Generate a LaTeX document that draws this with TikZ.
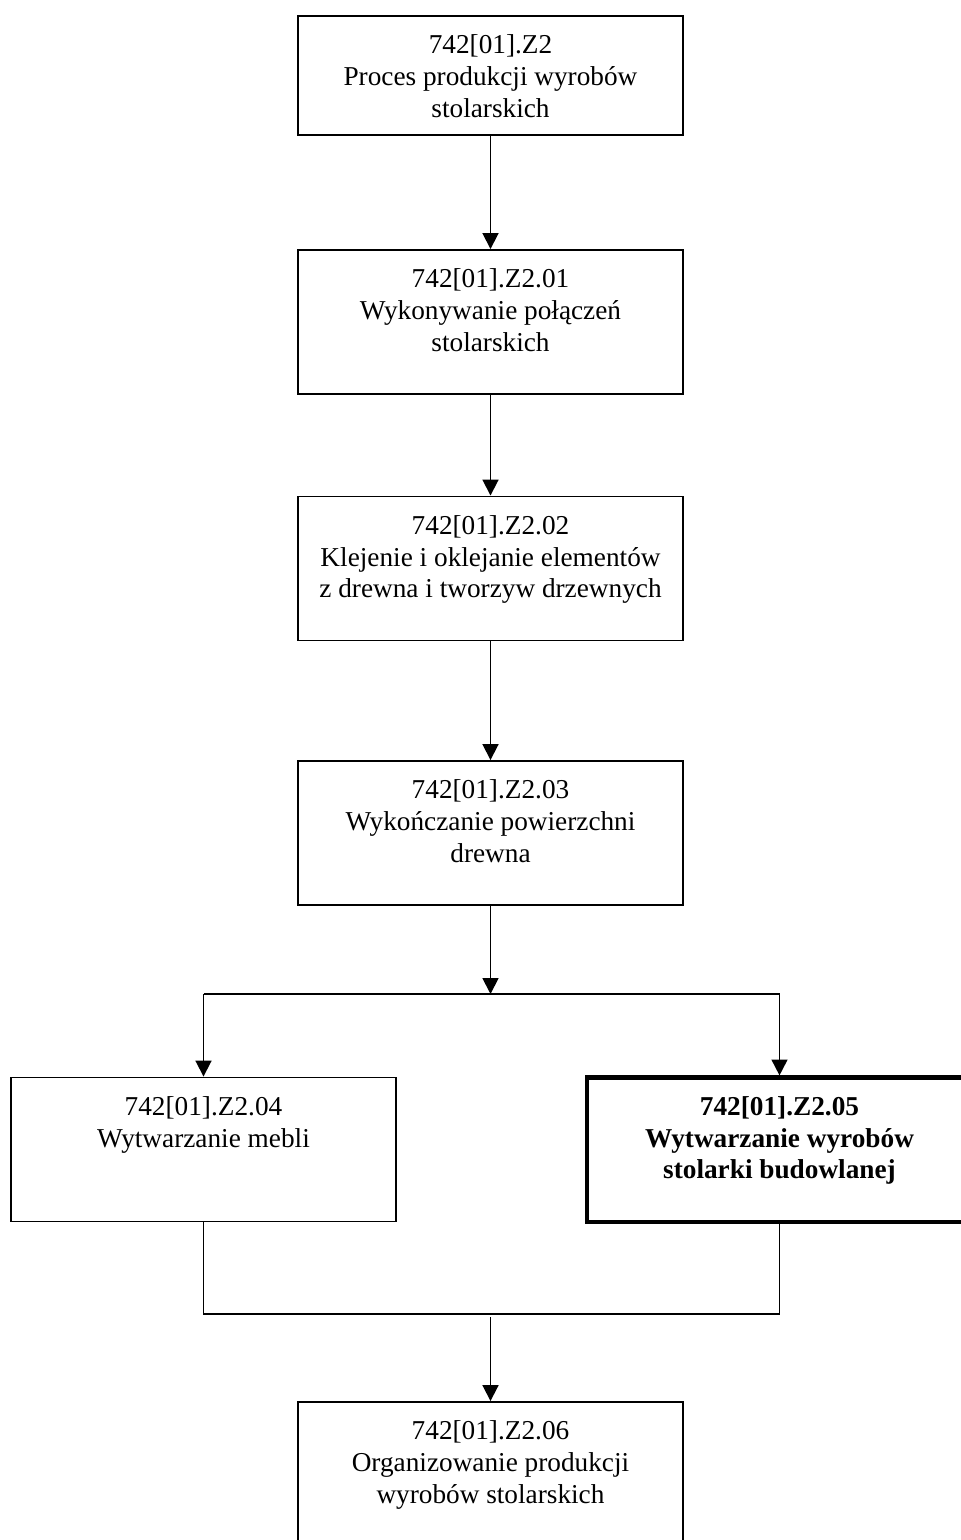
\documentclass[tikz,border=0pt]{standalone}
\usepackage{fontspec}
\setmainfont{Liberation Serif}
\usetikzlibrary{arrows.meta}

\newcommand{\boxtext}[2][63.4pt]{%
  \begin{minipage}[t][#1][t]{169.4pt}\centering\vspace*{6.8pt}\strut #2\end{minipage}}

\begin{document}
\begin{tikzpicture}[x=0.44pt, y=-0.44pt, line width=0.8pt,
  >={Triangle[length=7pt, width=7pt]},
  every node/.style = {draw, inner sep=0pt, font=\fontsize{12}{14}\selectfont},
  thick box/.style = {line width=1.8pt}]
  \useasboundingbox (0,0) rectangle (961,1540);
  \node (z2) at (490.5,75.5) {\boxtext[52.4pt]{742[01].Z2\\Proces produkcji wyrobów\\stolarskich}};
  \node (z201) at (490.5,322) {\boxtext{742[01].Z2.01\\Wykonywanie połączeń\\stolarskich}};
  \node (z202) at (490.5,568.5) {\boxtext{742[01].Z2.02\\Klejenie i oklejanie elementów\\z drewna i tworzyw drzewnych}};
  \node (z203) at (490.5,833) {\boxtext{742[01].Z2.03\\Wykończanie powierzchni\\drewna}};
  \node (z204) at (203.5,1149.5) {\boxtext{742[01].Z2.04\\Wytwarzanie mebli}};
  \node[thick box] (z205) at (779.5,1149.5) {\boxtext{\bfseries 742[01].Z2.05\\Wytwarzanie wyrobów\\stolarki budowlanej}};
  \node (z206) at (490.5,1474) {\boxtext{742[01].Z2.06\\Organizowanie produkcji\\wyrobów stolarskich}};
  \coordinate (split) at (490.5,994);
  \coordinate (join) at (490.5,1314);
  \coordinate (join2) at (490.5,1317);
  \draw[->] (z2) -- (z201);
  \draw[->] (z201) -- (z202);
  \draw[->] (z202) -- (z203);
  \draw[->] (z203) -- (split);
  \draw (split -| z204) -- (split -| z205);
  \draw[->] (split -| z204) -- (z204);
  \draw[->] (split -| z205) -- (z205);
  \draw (z204.south) -- (join -| z204) -- (join -| z205) -- (z205.south);
  \draw[->] (join2) -- (z206);
\end{tikzpicture}
\end{document}
